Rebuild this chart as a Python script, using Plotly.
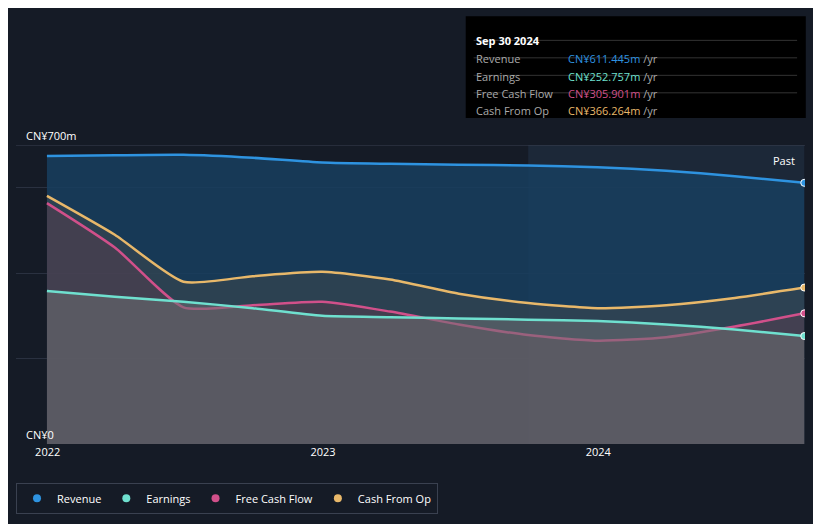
import plotly.graph_objects as go

dates = ["2021-12-31", "2022-03-31", "2022-06-30", "2022-09-30", "2022-12-31", "2023-03-31",
         "2023-06-30", "2023-09-30", "2023-12-31", "2024-03-31", "2024-06-30", "2024-09-30"]
revenue = [674, 676, 677, 670, 659, 656, 654, 652, 648, 640, 627, 611.445]
earnings = [358, 345, 333, 318, 300, 297, 294, 291, 288, 280, 268, 252.757]
fcf = [564, 460, 320, 325, 333, 310, 280, 255, 242, 250, 275, 305.901]
cfo = [581, 490, 380, 393, 403, 385, 352, 330, 318, 325, 342, 366.264]

bg = "#151b26"
fig = go.Figure()
series = [
    ("Revenue", revenue, "#2e93e0", "rgba(24,62,95,0.85)"),
    ("Cash From Op", cfo, "#e8b86a", "rgba(70,75,75,0.45)"),
    ("Free Cash Flow", fcf, "#d1508a", "rgba(120,60,75,0.30)"),
    ("Earnings", earnings, "#6fe0cf", "rgba(110,112,115,0.55)"),
]
for name, vals, col, fill in series:
    fig.add_trace(go.Scatter(x=dates, y=vals, name=name, mode="lines",
                             line=dict(color=col, width=2.5, shape="spline", smoothing=0.6),
                             fill="tozeroy", fillcolor=fill, showlegend=False))
    fig.add_trace(go.Scatter(x=[dates[-1]], y=[vals[-1]], mode="markers", showlegend=False,
                             marker=dict(color=col, size=7, line=dict(color="white", width=1))))

for name, col in [("Revenue", "#2e93e0"), ("Earnings", "#6fe0cf"), ("Free Cash Flow", "#d1508a"), ("Cash From Op", "#e8b86a")]:
    fig.add_trace(go.Scatter(x=[None], y=[None], mode="markers", name=name, marker=dict(color=col, size=8)))

fig.add_shape(type="rect", xref="x", yref="paper", x0="2023-09-30", x1="2024-09-30", y0=0, y1=1,
              fillcolor="rgba(60,100,140,0.18)", line_width=0, layer="below")
fig.add_shape(type="line", xref="paper", yref="y", x0=0, x1=1, y0=700, y1=700, line=dict(color="#3a4150", width=1))

fig.add_shape(type="rect", xref="paper", yref="paper", x0=0.570, x1=1.001, y0=1.431, y1=1.090,
              fillcolor="black", line_width=0)
rows = [("Revenue", "CN¥611.445m", "#2e93e0"), ("Earnings", "CN¥252.757m", "#6fe0cf"),
        ("Free Cash Flow", "CN¥305.901m", "#d1508a"), ("Cash From Op", "CN¥366.264m", "#e8b86a")]
fig.add_annotation(xref="paper", yref="paper", x=0.580, y=1.381, text="<b>Sep 30 2024</b>", showarrow=False,
                   xanchor="left", font=dict(color="white", size=11))
for i, (lab, val, col) in enumerate(rows):
    yy = 1.321 - i * 0.0585
    fig.add_shape(type="line", xref="paper", yref="paper", x0=0.580, x1=0.99, y0=yy + 0.029, y1=yy + 0.029,
                  line=dict(color="#333333", width=1))
    fig.add_annotation(xref="paper", yref="paper", x=0.580, y=yy, text=lab, showarrow=False, xanchor="left",
                       font=dict(color="#aaaaaa", size=11))
    fig.add_annotation(xref="paper", yref="paper", x=0.697, y=yy, text=f"<span style='color:{col}'>{val}</span> /yr",
                       showarrow=False, xanchor="left", font=dict(color="#aaaaaa", size=11))
fig.add_annotation(xref="paper", yref="paper", x=0.99, y=0.98, text="Past", showarrow=False, xanchor="right",
                   font=dict(color="white", size=11))
fig.add_annotation(xref="paper", yref="y", x=0.01, y=700, text="CN¥700m", showarrow=False, xanchor="left",
                   yanchor="bottom", font=dict(color="white", size=11))
fig.add_annotation(xref="paper", yref="y", x=0.01, y=0, text="CN¥0", showarrow=False, xanchor="left",
                   yanchor="bottom", font=dict(color="white", size=11))

fig.update_layout(
    width=821, height=524, paper_bgcolor=bg, plot_bgcolor=bg,
    margin=dict(l=8, r=24, t=137, b=88),
    font=dict(family="Open Sans", color="white", size=11),
    xaxis=dict(range=["2021-11-20", "2024-10-01"], showgrid=False, zeroline=False,
               tickvals=["2022-01-01", "2023-01-01", "2024-01-01"], ticktext=["2022", "2023", "2024"],
               tickfont=dict(color="white", size=11)),
    yaxis=dict(range=[0, 700], showticklabels=False, gridcolor="#2a3140", zeroline=False,
               tickvals=[0, 200, 400, 600]),
    legend=dict(orientation="h", x=0.0, y=-0.13, xanchor="left", yanchor="top", bgcolor=bg,
                bordercolor="#3a4150", borderwidth=1, font=dict(color="white", size=11)),
)
fig.write_html("out.html")
